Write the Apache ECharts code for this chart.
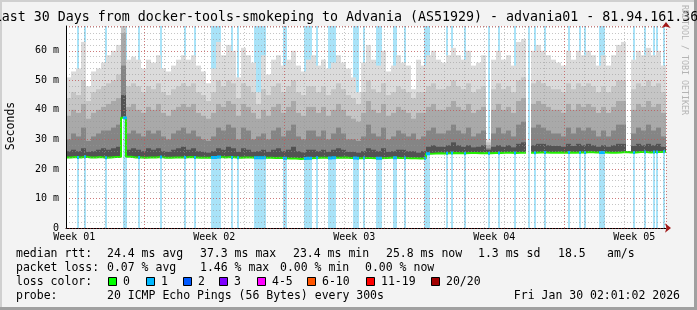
<!DOCTYPE html>
<html><head><meta charset="utf-8">
<script src="https://cdn.jsdelivr.net/npm/echarts@6/dist/echarts.min.js"></script>
<style>html,body{margin:0;padding:0;background:#f3f3f3}#c{width:697px;height:310px}</style>
</head><body><div id="c"></div>
<script>
// ================= DATA =================
const titleText = 'Last 30 Days from docker-tools-smokeping to Advania (AS51929) - advania01 - 81.94.161.36';
const weekLabels = ['Week 01', 'Week 02', 'Week 03', 'Week 04', 'Week 05'];
const columnDays = 0.25;           // each smoke column = 6 hours
const lossStep = 0.1;              // width of one loss sample (days)

const median = [
 23.9,24.0,23.9,24.1,23.9,23.9,24.0,23.8,23.9,24.0,24.0,37.3,24.1,23.9,23.9,23.8,23.9,23.9,24.0,23.8,23.8,23.9,23.9,23.9,24.0,23.9,23.8,23.8,23.8,23.9,
 24.0,23.9,24.0,23.9,23.8,23.9,23.9,23.8,23.8,23.8,23.8,23.7,23.8,23.6,23.5,23.5,23.4,23.5,23.6,23.7,23.8,23.8,23.7,23.8,23.8,23.9,23.7,23.7,23.6,23.7,
 23.7,23.6,23.6,23.7,23.8,23.8,23.7,23.7,23.6,23.6,23.5,23.6,25.1,25.2,25.3,25.2,25.3,25.4,25.3,25.3,25.4,25.4,25.3,25.4,25.3,25.4,25.4,25.5,25.5,25.4,
 25.5,25.5,null,25.5,25.6,25.6,25.5,25.5,25.6,25.5,25.6,25.5,25.6,25.6,25.7,25.6,25.6,25.6,25.5,25.5,25.6,25.7,25.6,25.6,25.7,25.7,25.6,25.7,25.7,25.8
];
const smokeU5 = [
 26,26.5,26,27,25.8,26,26.5,27,26.5,27,27.5,45,26.5,27,26.5,26,27,26.5,27,26,25.8,26.5,27,27.5,26.5,27,26,25.8,25.5,26,
 27,26.5,27.5,27,25.8,27,26.5,25.8,26,26.5,25.8,26.5,27,26,26.5,27.5,26,25.6,26.5,26.5,26,26.5,25.8,26.5,27,26.5,25.8,25.8,25.5,26,
 27,26.5,26,27,25.8,26,26.5,26.5,26,26,25.5,26,27.5,28,27.5,27.5,28,29,28,27.5,28,27.3,27.5,28,26.5,27.5,28,27.5,28,27.3,
 28.5,29,null,28,28.5,28.5,28,27.8,27.8,27.5,28.5,27.8,28.5,28,28.5,28,27.5,28,27.5,28,28.5,28.5,25.9,27.8,28.5,28,28.5,28,28.5,27.5
];
const smokeU4 = [
 30,32,31,34,29.5,31,32,33,33,34,35,55,32,33,32,31,33,32,33,31,30,32,33,34,32,33,31,30,29.5,31,
 34,33,35,34,30,34,33,30,31,32,30,33,34,31,33,35,31,30,33,33,31,33,30,32,34,32,30,30,29.5,31,
 35,32,31,34,30,31,33,32,31,32,30,31,33,34,32,32,33,35,33,32,34,31,32,33,27,32,34,32,33,31,
 35,36,null,34,35,34,33,32,32,31,34,32,34,33,34,33,31,33,31,33,35,35,26,32,34,33,35,33,34,31
];
const smokeU3 = [
 38,40,39,42,37,39,40,41,42,43,44,66,41,42,40,39,41,40,42,39,38,40,41,42,41,42,39,38,37,39,
 42,41,43,42,38,42,41,39,37,40,38,41,42,39,41,43,39,38,41,41,39,41,38,40,42,40,38,37,36,39,
 43,40,39,42,38,39,41,40,39,37,39,39,41,42,40,40,41,43,41,40,42,39,40,41,28,40,42,40,41,39,
 43,44,null,42,43,42,41,40,40,39,42,40,42,41,42,41,39,41,39,41,43,43,26,40,42,41,43,41,42,39
];
const smokeU2 = [
 44,46,45,50,43,46,47,48,49,50,52,72,48,49,48,46,48,47,49,46,45,47,48,49,48,49,46,45,43,46,
 50,48,50,49,44,49,48,46,42,47,45,48,49,46,48,50,46,45,48,48,46,48,45,47,49,47,45,44,42,46,
 50,47,46,49,45,46,48,47,46,44,46,46,48,49,47,47,48,50,48,47,49,46,47,48,29,47,49,47,48,46,
 50,51,null,49,50,49,48,47,47,46,49,47,49,48,49,48,46,48,46,48,50,50,26,47,49,48,50,48,49,46
];
const smokeMax = [
 51,53,54,63,48,53,54,56,58.5,60,62,75,57,58,57,54,57,56,58.5,54,53,55,57,58.5,57,58.5,55,53,49,54,
 63,58.5,62,60,51,61,58.5,56,46,58.5,52,57,58.5,55,57,60,55,53,57,58.5,55,57,54,56,58.5,56,54,51,46,56,
 62,57,55,60,53,55,58.5,56,55,47,57,55,58.5,60,57,56,58.5,61,58.5,57,60,55,56,58.5,30,57,60,57,58.5,55,
 63,64,null,60,62,60,58.5,57,56,55,60,57,60,58.5,60,58.5,55,58.5,55,58.5,62,63,26,57,60,58.5,61,58.5,60,55
];
// loss samples: day offset from start of graph, lost pings (of 20)
const lossDays = [0.55,0.9,1.95,2.85,2.95,3.6,4.7,5.9,6.4,7.25,7.35,7.45,7.55,7.65,8.25,8.55,9.4,9.5,9.6,9.7,9.8,9.9,10.85,10.95,11.9,12.0,12.1,12.2,12.5,13.1,13.2,13.3,13.4,14.35,14.45,14.55,14.85,15.5,15.6,15.7,16.35,16.45,16.9,17.9,18.0,18.1,19.0,19.25,19.9,21.1,21.6,22.4,23.1,23.4,23.9,25.1,25.65,25.9,26.65,26.75,26.85,28.35,28.9,29.35,29.5,29.85];
const lossCounts = lossDays.map(() => 1);

const medianStats = ['24.4 ms avg', '37.3 ms max', '23.4 ms min', '25.8 ms now', '1.3 ms sd', '18.5', 'am/s'];
const lossStats = ['0.07 % avg', '1.46 % max', '0.00 % min', '0.00 % now'];
const lossLegend = ['0', '1', '2', '3', '4-5', '6-10', '11-19', '20/20'];
const lossLegendColors = ['#00ff00', '#00b8ff', '#0059ff', '#7e00ff', '#ff00ff', '#ff5500', '#ff0000', '#a10000'];
const probeText = '20 ICMP Echo Pings (56 Bytes) every 300s';
const dateText = 'Fri Jan 30 02:01:02 2026';

// graph starts Wed Dec 31 02:01 ; Sunday Dec 28 00:00 is 3 days before that midnight
const START = 121 / 1440;
const SUN_BEFORE = 3;
const Y_MAX = 68.4;

// ================= LAYOUT / STYLE =================
const MONO = '"DejaVu Sans Mono", monospace';
const smokeColors = ['#525252', '#858585', '#a9a9a9', '#c5c5c5', '#dbdbdb'];
const lossBg = c => c <= 0 ? null : c === 1 ? '#a9e3f8' : c === 2 ? '#9fc1f7' : '#c9a8f7';
const lossFg = c => lossLegendColors[c <= 3 ? c : c <= 5 ? 4 : c <= 10 ? 5 : c <= 19 ? 6 : 7];

function clipTo(shape, cs) {
  return echarts.graphic.clipRectByRect(shape, {x: cs.x, y: cs.y, width: cs.width, height: cs.height});
}

const chart = echarts.init(document.getElementById('c'), null, {renderer: 'canvas', width: 697, height: 310});

const gridRed = {color: 'rgba(210,60,60,0.55)', width: 1, type: [1, 2]};
const gridGray = {color: 'rgba(150,150,150,0.55)', width: 1, type: [1, 2]};
const hidden = {axisLine: {show: false}, axisTick: {show: false}, axisLabel: {show: false}};

const option = {
  animation: false,
  backgroundColor: '#f3f3f3',
  grid: {left: 66, top: 26, width: 600, height: 202, show: true, backgroundColor: '#ffffff', borderWidth: 0},
  xAxis: [
    { // data axis: days since start
      type: 'value', min: 0, max: 30, position: 'bottom', z: 10,
      axisLine: {show: true, onZero: false, lineStyle: {color: '#000', width: 1}},
      axisTick: {show: false}, axisLabel: {show: false}, splitLine: {show: false}
    },
    { // day grid: days since Dec 31 00:00
      type: 'value', min: START, max: 30 + START, splitNumber: 30, position: 'bottom', z: 9,
      ...hidden, splitLine: {show: true, lineStyle: gridGray}
    },
    { // week grid: weeks since Sun Dec 28 00:00
      type: 'value', min: (SUN_BEFORE + START) / 7, max: (30 + SUN_BEFORE + START) / 7, splitNumber: 4, position: 'bottom', z: 11,
      axisLine: {show: true, onZero: false, symbol: ['none', 'arrow'], symbolSize: [7, 6], symbolOffset: [0, 5],
        lineStyle: {color: '#a01818', width: 0}},
      axisTick: {show: false}, axisLabel: {show: false},
      splitLine: {show: true, lineStyle: gridRed}
    },
    { // week labels: weeks since middle of week 01 (Wed Dec 31 12:00)
      type: 'value', min: (START - 0.5) / 7, max: (30 + START - 0.5) / 7, splitNumber: 4, position: 'bottom', z: 10,
      axisLine: {show: false}, axisTick: {show: false}, splitLine: {show: false},
      axisLabel: {show: true, margin: 4, fontFamily: MONO, fontSize: 10, color: '#000',
        showMinLabel: true, showMaxLabel: true,
        formatter: v => Math.abs(v - Math.round(v)) < 1e-6 && weekLabels[Math.round(v)] ? weekLabels[Math.round(v)] : ''}
    }
  ],
  yAxis: [
    {
      type: 'value', min: 0, max: Y_MAX, interval: 10, z: 11,
      axisLine: {show: true, onZero: false, lineStyle: {color: '#000', width: 1}},
      axisTick: {show: false},
      axisLabel: {margin: 7, fontFamily: MONO, fontSize: 10, color: '#000',
        formatter: v => v === 0 ? '0' : (Math.abs(v % 10) < 1e-6 ? v + ' m' : '')},
      splitLine: {show: true, lineStyle: gridRed}
    },
    {
      type: 'value', min: 0, max: Y_MAX, interval: 2, z: 9,
      axisLine: {show: true, onZero: false, symbol: ['none', 'arrow'], symbolSize: [7, 6], symbolOffset: [0, 4],
        lineStyle: {color: '#a01818', width: 0}},
      axisTick: {show: false}, axisLabel: {show: false},
      splitLine: {show: true, lineStyle: gridGray}
    }
  ],
  series: [
    { // loss background bars
      type: 'custom', xAxisIndex: 0, yAxisIndex: 0, z: 1, silent: true,
      data: lossDays.map((d, k) => [d, lossCounts[k]]),
      renderItem(params, api) {
        const d = api.value(0), c = api.value(1);
        const p0 = api.coord([d, Y_MAX]);
        const p1 = api.coord([d + lossStep, 0]);
        const shape = clipTo({x: p0[0], y: p0[1], width: p1[0] - p0[0], height: p1[1] - p0[1]}, params.coordSys);
        return shape && {type: 'rect', shape, style: {fill: lossBg(c)}};
      }
    },
    { // smoke
      type: 'custom', xAxisIndex: 0, yAxisIndex: 0, z: 2, silent: true,
      data: median.map((m, i) => [i, m, smokeU5[i], smokeU4[i], smokeU3[i], smokeU2[i], smokeMax[i]]),
      renderItem(params, api) {
        const i = api.value(0), m = api.value(1);
        if (m == null || isNaN(m)) return null;
        const x0 = i * columnDays, x1 = (i + 1) * columnDays;
        const lv = [m, api.value(2), api.value(3), api.value(4), api.value(5), api.value(6)];
        const children = [];
        for (let k = 4; k >= 0; k--) {
          const p0 = api.coord([x0, lv[k + 1]]);
          const p1 = api.coord([x1, lv[0]]);
          const shape = clipTo({x: p0[0], y: p0[1], width: p1[0] - p0[0], height: p1[1] - p0[1]}, params.coordSys);
          if (shape) children.push({type: 'rect', shape, style: {fill: smokeColors[k]}});
        }
        return {type: 'group', children};
      }
    },
    { // median rtt
      type: 'line', xAxisIndex: 0, yAxisIndex: 0, z: 3, silent: true, symbol: 'none', connectNulls: false,
      lineStyle: {color: '#22ee00', width: 2},
      data: median.flatMap((v, i) => [[i * columnDays, v], [(i + 1) * columnDays, v]])
    },
    { // loss-coloured median points
      type: 'custom', xAxisIndex: 0, yAxisIndex: 0, z: 4, silent: true,
      data: lossDays.map((d, k) => [d, lossCounts[k]]),
      renderItem(params, api) {
        const d = api.value(0), c = api.value(1);
        const m = median[Math.min(median.length - 1, Math.floor(d / columnDays))];
        if (m == null) return null;
        const p = api.coord([d, m]);
        return {type: 'rect', shape: {x: p[0], y: p[1] - 1.5, width: 2, height: 3}, style: {fill: lossFg(c)}};
      }
    }
  ],
  graphic: []
};

// ---- text & legend ----
const g = option.graphic;
function txt(x, y, s, align) {
  g.push({type: 'text', x, y, silent: true,
    style: {text: s, font: '11.5px ' + MONO, fill: '#000', textAlign: align || 'left', textVerticalAlign: 'middle'}});
}
// frame
g.push({type: 'rect', shape: {x: 0, y: 0, width: 697, height: 2}, style: {fill: '#d0d0d0'}, silent: true});
g.push({type: 'rect', shape: {x: 0, y: 0, width: 2, height: 310}, style: {fill: '#d0d0d0'}, silent: true});
g.push({type: 'rect', shape: {x: 694, y: 0, width: 3, height: 310}, style: {fill: '#a0a0a0'}, silent: true});
g.push({type: 'rect', shape: {x: 0, y: 307, width: 697, height: 3}, style: {fill: '#a0a0a0'}, silent: true});
// title
g.push({type: 'text', x: 346, y: 18, silent: true, style: {text: titleText, font: '13.3px ' + MONO, fill: '#000', textAlign: 'center', textVerticalAlign: 'middle'}});
// watermark
g.push({type: 'text', x: 684, y: 5, rotation: -Math.PI / 2, silent: true, style: {text: 'RRDTOOL / TOBI OETIKER', font: '8.3px ' + MONO, fill: '#b4b4b4', textAlign: 'left', textVerticalAlign: 'middle'}});
// y title
g.push({type: 'text', x: 11, y: 126, rotation: Math.PI / 2, silent: true, style: {text: 'Seconds', font: '11.5px ' + MONO, fill: '#000', textAlign: 'center', textVerticalAlign: 'middle'}});

const rowY = [254, 268, 282, 296];
txt(16, rowY[0], 'median rtt:');
[107, 200, 293, 386, 478, 558, 607].forEach((x, k) => txt(x, rowY[0], medianStats[k]));
txt(16, rowY[1], 'packet loss:');
[107, 200, 280, 365].forEach((x, k) => txt(x, rowY[1], lossStats[k]));
txt(16, rowY[2], 'loss color:');
[108, 146, 183, 219, 257, 307, 366, 431].forEach((x, k) => {
  g.push({type: 'rect', silent: true, shape: {x: x + 0.5, y: rowY[2] - 4.5, width: 8, height: 8}, style: {fill: lossLegendColors[k], stroke: '#000', lineWidth: 1}});
  txt(x + 15, rowY[2], lossLegend[k]);
});
txt(16, rowY[3], 'probe:');
txt(107, rowY[3], probeText);
txt(680, rowY[3], dateText, 'right');

chart.setOption(option);
</script>
</body></html>
